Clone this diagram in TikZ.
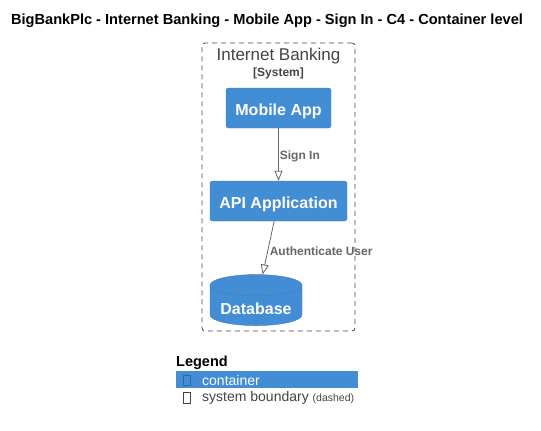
\documentclass[tikz,border=0pt]{standalone}
\usepackage{fontspec}
\setmainfont{Liberation Sans}
\usetikzlibrary{arrows.meta, shapes.geometric}
\definecolor{containerblue}{HTML}{438DD5}
\definecolor{containerline}{HTML}{3C7FC0}
\definecolor{boundarygray}{HTML}{444444}
\definecolor{relgray}{HTML}{666666}

\begin{document}
\begin{tikzpicture}[x=1pt, y=-1pt,
        container/.style={rectangle, draw=containerline, fill=containerblue, rounded corners=2.5pt, text=white, font=\fontsize{16}{19}\selectfont\bfseries, minimum height=40pt, inner sep=0pt, text height=14pt, text depth=0pt},
        database/.style={cylinder, shape border rotate=90, aspect=0.3, draw=containerline, fill=containerblue, text=white, font=\fontsize{16}{19}\selectfont\bfseries, minimum width=92pt, minimum height=51pt, inner sep=0pt, text height=18pt, text depth=0pt},
        boundary/.style={rectangle, draw=boundarygray, dash pattern=on 5pt off 4pt, rounded corners=3pt, line width=0.8pt},
        relation/.style={-{Triangle[open, length=10pt, width=8pt]}, draw=relgray, line width=0.8pt},
        rellabel/.style={font=\fontsize{12}{14}\selectfont\bfseries, text=relgray, inner sep=1pt},
        legendtext/.style={font=\fontsize{14}{16}\selectfont, inner sep=0pt, anchor=west}
    ]
        \useasboundingbox (0,0) rectangle (541,431);

        % Title
        \node[font=\fontsize{14.6}{17}\selectfont\bfseries] (title) at (267,21) {BigBankPlc - Internet Banking - Mobile App - Sign In - C4 - Container level};

        % System boundary
        \node[boundary, minimum width=153pt, minimum height=288pt] (banking) at (278.5,187) {};
        \node[font=\fontsize{17}{20}\selectfont, text=boundarygray] (bankingname) at (278.5,56) {Internet Banking};
        \node[font=\fontsize{12}{14}\selectfont\bfseries, text=boundarygray] (bankingtype) at (278.5,73) {[System]};

        % Containers
        \node[container, minimum width=105pt] (mobile) at (278.5,108) {Mobile App};
        \node[container, minimum width=137pt] (api) at (278.5,201) {API Application};
        \node[database] (db) at (256,305.5) {Database};

        % Relations
        \draw[relation] (mobile) -- (api) node[midway, right, rellabel, yshift=-2pt] {Sign In};
        \draw[relation] (api) -- (db) node[midway, right, rellabel, yshift=-3pt] {Authenticate User};

        % Legend
        \node[font=\fontsize{14.5}{17}\selectfont\bfseries, inner sep=0pt, anchor=west] (legend) at (176,363) {Legend};
        \node[rectangle, fill=containerblue, minimum width=182pt, minimum height=17pt, inner sep=0pt] (legcontainer) at (267,379.5) {};
        \draw[draw=containerline!80!black, line width=0.6pt] (183,375.5) rectangle (190.5,385.5);
        \node[legendtext, text=white] (legcontainertext) at (202,380) {container};
        \draw[draw=boundarygray, line width=0.6pt] (183,392.5) rectangle (190.5,403);
        \node[legendtext, text=boundarygray] (legboundary) at (202,398) {system boundary \fontsize{10.5}{12}\selectfont(dashed)};
    \end{tikzpicture}
\end{document}
